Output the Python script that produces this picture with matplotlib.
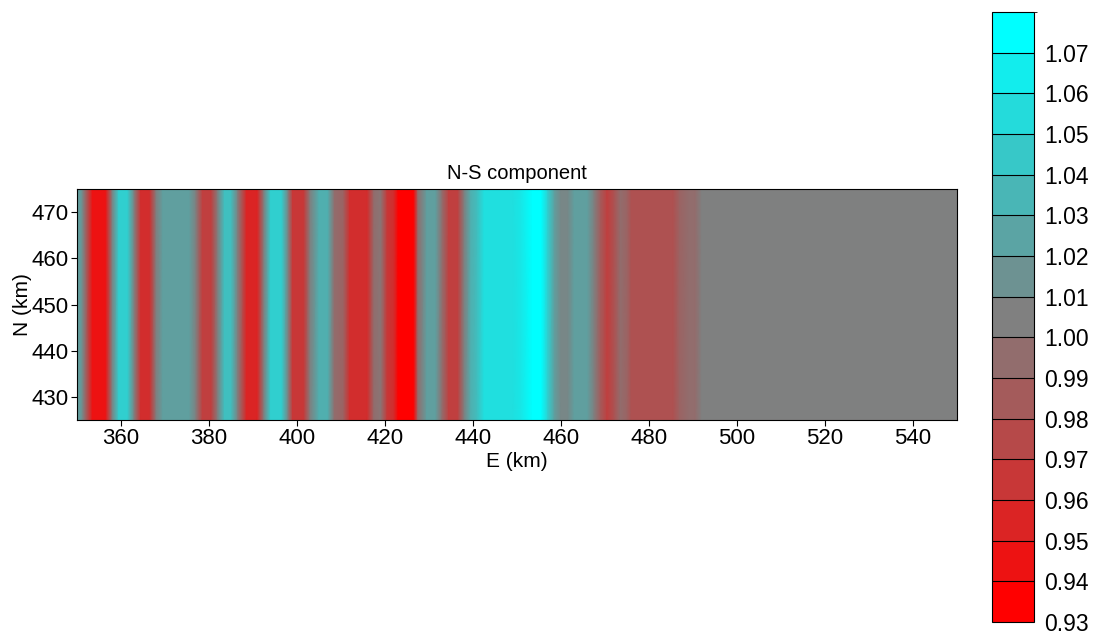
import numpy as np
import matplotlib.pyplot as plt
from matplotlib.colors import LinearSegmentedColormap, ListedColormap, BoundaryNorm
import matplotlib as mpl
plt.rcParams['font.family'] = ['Liberation Sans', 'DejaVu Sans']

# E profile (km) and N-S component ratio
e_km = [350, 351, 353.5, 356.5, 358, 359.5, 361.5, 363, 364.5, 366.5,
        368, 369.5, 375.5, 377, 378.5, 380.5, 382, 383.5, 385, 386.5,
        388.5, 391, 392.5, 394, 396.5, 398, 399, 401.5, 403, 405,
        407, 408.5, 410.5, 412, 416, 417.5, 419, 420.5, 422, 423,
        426.5, 427.5, 429.5, 431.5, 433, 434.5, 436.5, 438, 439.5, 441,
        442.5, 449, 451, 453.5, 455.5, 457, 458.5, 460, 461.5, 463,
        466, 467.5, 469, 470.5, 472, 473.5, 475, 476, 485.5, 487,
        489, 490.5, 492, 550]
ratio = [1.02, 1.015, 0.94, 0.94, 1.00, 1.05, 1.05, 1.00, 0.955, 0.955,
         1.00, 1.02, 1.02, 1.00, 0.965, 0.965, 1.00, 1.04, 1.04, 1.00,
         0.95, 0.95, 1.00, 1.05, 1.05, 1.00, 0.96, 0.96, 1.00, 1.03,
         1.03, 0.99, 0.985, 0.955, 0.955, 0.99, 0.995, 0.96, 0.955, 0.93,
         0.93, 0.99, 1.02, 1.02, 0.99, 0.965, 0.965, 1.00, 1.03, 1.04,
         1.06, 1.06, 1.065, 1.08, 1.08, 1.05, 1.02, 1.005, 1.005, 1.02,
         1.02, 1.00, 0.98, 0.965, 0.975, 0.99, 0.985, 0.975, 0.975, 0.985,
         0.99, 0.99, 1.00, 1.00]
n_km = [425, 475]
levels = np.round(np.arange(0.93, 1.0801, 0.01), 2)
tick_vals = levels[:-1]

RED, GRAY, CYAN = (1, 0, 0), (0.5, 0.5, 0.5), (0, 1, 1)
vmin, vmax = 0.93, 1.08
mid = (1.00 - vmin) / (vmax - vmin)
cmap = LinearSegmentedColormap.from_list("rgc", [(0.0, RED), (mid, GRAY), (1.0, CYAN)])

fig = plt.figure(figsize=(10.94, 6.34), dpi=100)
ax = fig.add_axes([0.0704, 0.3375, 0.8044, 0.3644])

Z = np.tile(np.array(ratio), (len(n_km), 1))
ax.pcolormesh(e_km, n_km, Z, cmap=cmap, vmin=vmin, vmax=vmax, shading='gouraud')
ax.set_xlim(350, 550)
ax.set_ylim(425, 475)
ax.set_xticks(np.arange(360, 541, 20))
ax.set_yticks(np.arange(430, 471, 10))
ax.tick_params(labelsize=16, length=4, direction='out', pad=2)
ax.set_xlabel("E (km)", fontsize=15, labelpad=2)
ax.set_ylabel("N (km)", fontsize=15, labelpad=0)
ax.set_title("N-S component", fontsize=14.5, pad=7)

# discrete colorbar: 7 steps red->gray, 8 steps gray->cyan
seg_cols = np.vstack([np.linspace(RED, GRAY, 8)[:-1], np.linspace(GRAY, CYAN, 8)])
dcmap = ListedColormap(seg_cols)
norm = BoundaryNorm(levels, dcmap.N)
cax = fig.add_axes([0.9068, 0.0189, 0.0384, 0.9621])
cb = fig.colorbar(mpl.cm.ScalarMappable(norm=norm, cmap=dcmap), cax=cax,
                  ticks=tick_vals, drawedges=True)
cb.ax.set_yticklabels([f"{v:.2f}" for v in tick_vals])
cb.ax.tick_params(labelsize=16.5, length=0, pad=7)
cb.dividers.set_color('black')
cb.dividers.set_linewidth(0.8)

fig.savefig("out.png", dpi=100)
